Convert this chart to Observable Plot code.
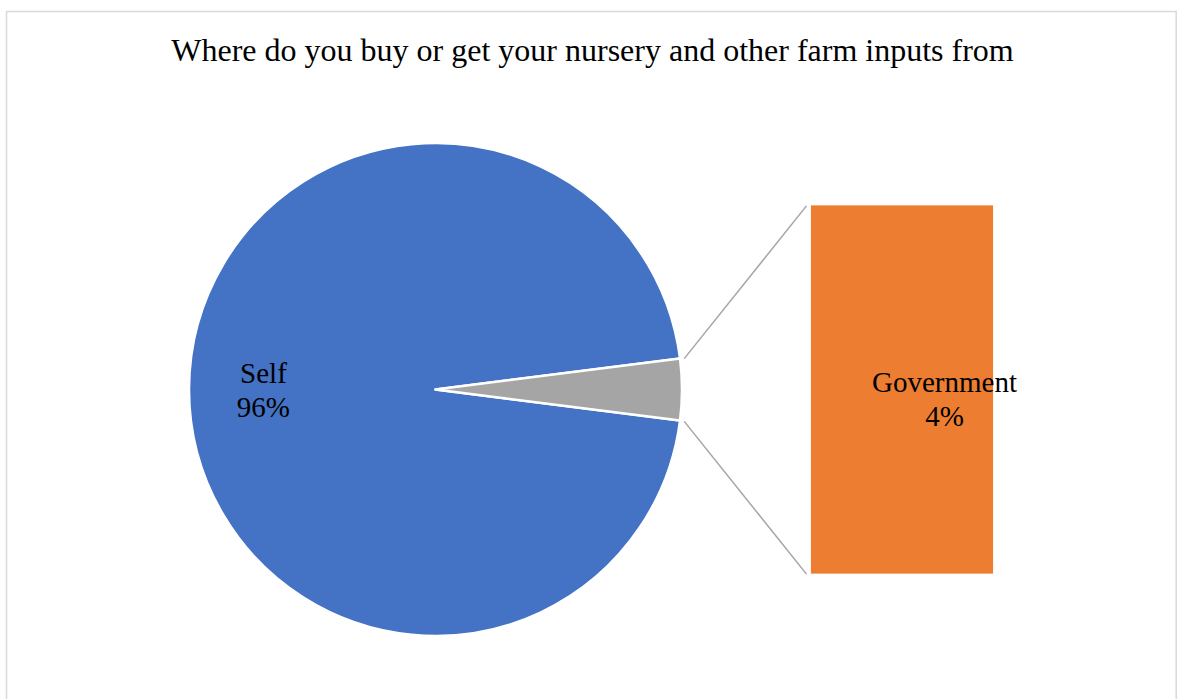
<!DOCTYPE html>
<html>
<head>
<meta charset="utf-8">
<script src="https://cdn.jsdelivr.net/npm/d3@7"></script>
<script src="https://cdn.jsdelivr.net/npm/@observablehq/plot@0.6"></script>
<style>
  html, body { margin: 0; padding: 0; background: #fff; }
  #chart svg { display: block; overflow: visible; }
</style>
</head>
<body>
<div id="chart"></div>
<script>
// ---------- data ----------
const chartTitle = "Where do you buy or get your nursery and other farm inputs from";
const pieCategories = ["Self", "Other"];          // pie: "Other" is expanded into the bar
const pieValues = [96, 4];
const barCategories = ["Government"];             // secondary (bar of pie) categories
const barValues = [4];

// ---------- styles / layout (not data) ----------
const colors = {Self: "#4472C4", Other: "#A5A5A5", Government: "#ED7D31"};
const serif = "'Liberation Serif', 'Times New Roman', Times, serif";
const W = 1177, H = 699;
const CX = 435.5, CY = 389.5, R = 246.5;          // pie centre / radius in px
const bar = {x1: 1.523, x2: 2.262, half: 0.747, linkX: 1.503};   // in radius units
const labelPos = {Self: [-0.70, 0.003], Government: [2.063, -0.032]};
const titlePos = [0.635, 1.378];

const pieData = pieCategories.map((name, i) => ({name, value: pieValues[i]}));
const barData = barCategories.map((name, i) => ({name, value: barValues[i]}));
const pieTotal = d3.sum(pieValues);
const otherFrac = pieValues[pieCategories.indexOf("Other")] / pieTotal;

// stacked bar segments (normalised to bar height)
const barTotal = d3.sum(barValues);
let cum = 0;
const barRects = barData.map(d => {
  const y1 = -bar.half + (cum / barTotal) * 2 * bar.half;
  cum += d.value;
  const y2 = -bar.half + (cum / barTotal) * 2 * bar.half;
  return {...d, x1: bar.x1, x2: bar.x2, y1, y2};
});

// connector lines from the "Other" slice edges to the bar corners
const theta = Math.PI * otherFrac;
const links = [1, -1].map(s => ({
  x1: 1.015 * Math.cos(theta), y1: s * 1.015 * Math.sin(theta),
  x2: bar.linkX, y2: s * bar.half
}));

// labels
const labels = [
  {name: "Self", text: `Self\n${pieValues[0]}%`, x: labelPos.Self[0], y: labelPos.Self[1]},
  ...barData.map(d => ({name: d.name, text: `${d.name}\n${Math.round(d.value / pieTotal * 100)}%`,
    x: labelPos[d.name][0], y: labelPos[d.name][1]}))
];

// pie rendered through Plot's scales
function pieMark(index, scales) {
  const {x, y} = scales;
  const cx = x(0), cy = y(0), r = x(1) - x(0);
  const start = Math.PI / 2 + Math.PI * otherFrac;
  const arcs = d3.pie().value(d => d.value).sort(null)
    .startAngle(start).endAngle(start + 2 * Math.PI)(pieData);
  const arc = d3.arc().innerRadius(0).outerRadius(r);
  const g = d3.create("svg:g").attr("transform", `translate(${cx},${cy})`);
  g.selectAll("path").data(arcs).join("path")
    .attr("d", arc)
    .attr("fill", d => colors[d.data.name])
    .attr("stroke", "#fff")
    .attr("stroke-width", 2.5)
    .attr("stroke-linejoin", "round");
  return g.node();
}

const chart = Plot.plot({
  width: W,
  height: H,
  margin: 0,
  x: {domain: [(0 - CX) / R, (W - CX) / R], axis: null},
  y: {domain: [(CY - H) / R, CY / R], axis: null},
  style: {background: "#fff"},
  marks: [
    Plot.frame({stroke: "#d9d9d9", strokeWidth: 1.5, insetLeft: 6, insetTop: 11, insetRight: 1.3, insetBottom: -10}),
    pieMark,
    Plot.link(links, {x1: "x1", y1: "y1", x2: "x2", y2: "y2", stroke: "#a5a5a5", strokeWidth: 1.5}),
    Plot.rect(barRects, {x1: "x1", x2: "x2", y1: "y1", y2: "y2", fill: d => colors[d.name]}),
    Plot.text(labels, {x: "x", y: "y", text: "text", fontFamily: serif, fontSize: 29,
      lineHeight: 1.17, textAnchor: "middle", fill: "#000"}),
    Plot.text([chartTitle], {x: () => titlePos[0], y: () => titlePos[1], text: d => d,
      fontFamily: serif, fontSize: 32, textAnchor: "middle", fill: "#000"})
  ]
});
document.getElementById("chart").appendChild(chart);
</script>
</body>
</html>
